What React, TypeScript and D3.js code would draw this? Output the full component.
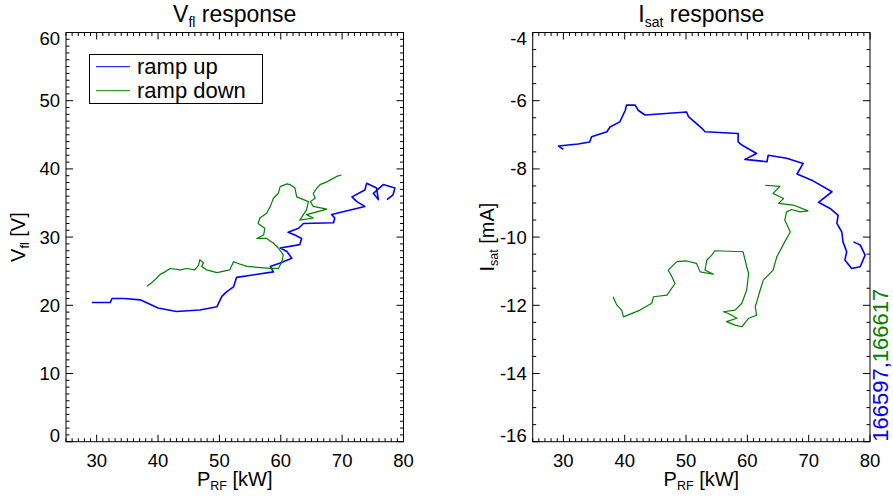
import * as d3 from 'd3'

// [P_RF kW, value] pairs
const VFL_UP: [number, number][] = [
  [29.2, 20.4], [32.2, 20.4], [32.5, 21.0], [34.5, 21.0], [37.1, 20.8], [40.0, 19.6],
  [43.0, 19.1], [46.8, 19.3], [49.6, 19.8], [50.4, 21.3], [51.2, 22.0], [52.3, 22.7],
  [52.8, 24.1], [58.8, 24.9], [58.3, 25.7], [59.9, 26.2], [61.8, 26.9], [61.0, 27.9],
  [59.9, 28.4], [63.1, 28.9], [63.4, 29.8], [62.3, 30.3], [61.2, 30.7], [62.9, 31.3],
  [63.7, 32.0], [68.6, 32.1], [68.8, 32.8], [68.3, 33.3], [73.7, 34.5], [72.4, 35.2],
  [71.6, 35.9], [73.7, 36.9], [74.0, 37.9], [75.6, 37.2], [75.9, 35.5], [75.1, 36.4],
  [76.7, 37.7], [78.6, 37.2], [78.3, 36.2], [77.3, 35.5],
]

const VFL_DOWN: [number, number][] = [
  [69.9, 39.1], [69.1, 38.9], [67.5, 38.1], [66.4, 37.7], [65.9, 37.2], [65.3, 36.4],
  [65.6, 35.7], [64.8, 35.2], [65.3, 34.5], [67.5, 34.1], [65.9, 33.7], [64.2, 33.3],
  [65.3, 32.8], [63.1, 32.5], [64.2, 34.0], [64.5, 35.2], [62.6, 35.9], [62.3, 37.2],
  [61.5, 37.7], [61.0, 37.8], [59.9, 37.4], [59.6, 36.4], [58.8, 35.7], [58.3, 34.5],
  [57.7, 33.5], [56.6, 32.8], [56.3, 32.0], [57.4, 31.3], [57.2, 30.3], [56.1, 29.8],
  [57.7, 29.8], [58.8, 29.1], [59.6, 28.4], [60.4, 27.4], [60.2, 26.4], [59.6, 25.4],
  [58.3, 25.4], [54.5, 25.7], [52.8, 26.2], [52.3, 26.4], [51.7, 25.2], [49.6, 24.8],
  [47.9, 25.2], [47.1, 25.7], [47.4, 26.2], [46.8, 26.7], [46.6, 25.9], [46.0, 25.2],
  [44.7, 25.4], [43.6, 25.2], [42.0, 25.4], [41.1, 24.9], [40.3, 24.5], [39.8, 24.0],
  [39.2, 23.5], [38.2, 22.8],
]

const ISAT_UP: [number, number][] = [
  [30.0, -7.43], [29.2, -7.33], [32.4, -7.27], [34.3, -7.21], [34.6, -7.06], [37.1, -6.91],
  [37.6, -6.77], [39.2, -6.62], [40.1, -6.28], [40.3, -6.13], [41.7, -6.13], [42.2, -6.28],
  [43.3, -6.42], [50.1, -6.33], [50.4, -6.47], [51.2, -6.59], [52.6, -6.81], [53.1, -6.91],
  [58.5, -6.96], [58.5, -7.21], [59.1, -7.30], [61.5, -7.55], [59.6, -7.72], [63.2, -7.79],
  [63.4, -7.60], [66.4, -7.69], [69.1, -7.84], [68.1, -8.15], [70.5, -8.33], [73.8, -8.67],
  [71.6, -8.98], [73.5, -9.16], [74.8, -9.36], [74.6, -9.60], [75.4, -9.85], [75.6, -10.14],
  [76.2, -10.43], [75.9, -10.67], [77.0, -10.92], [78.4, -10.87], [79.2, -10.53],
  [78.4, -10.23], [77.3, -10.14],
]

const ISAT_DOWN: [number, number][] = [
  [62.9, -8.48], [65.3, -8.51], [64.2, -8.72], [65.9, -8.87], [65.1, -9.01], [67.5, -9.06],
  [69.9, -9.23], [68.6, -9.26], [67.2, -9.19], [66.4, -9.26], [66.1, -9.50], [67.0, -9.85],
  [66.1, -10.14], [64.8, -10.58], [64.2, -10.97], [62.6, -11.26], [62.1, -11.55],
  [61.3, -12.04], [61.5, -12.29], [60.2, -12.38], [59.1, -12.63], [58.0, -12.58],
  [56.6, -12.48], [58.3, -12.38], [56.9, -12.24], [56.1, -12.19], [58.0, -12.14],
  [59.1, -11.94], [59.9, -11.55], [60.2, -11.06], [59.9, -10.87], [59.3, -10.43],
  [54.7, -10.40], [54.2, -10.53], [53.4, -10.67], [53.1, -10.97], [54.5, -11.09],
  [52.3, -11.02], [51.7, -10.77], [50.1, -10.70], [48.5, -10.72], [47.1, -10.97],
  [47.7, -11.16], [48.2, -11.36], [46.9, -11.70], [44.7, -11.75], [44.4, -11.94],
  [42.5, -12.14], [39.8, -12.34], [39.5, -12.14], [38.7, -11.99], [38.1, -11.75],
]

const P_TICKS = [30, 40, 50, 60, 70, 80]
const VFL_TICKS = [0, 10, 20, 30, 40, 50, 60]
const ISAT_TICKS = [-16, -14, -12, -10, -8, -6, -4]
const LEGEND = ['ramp up', 'ramp down']
const SHOTS = ['166597', '166617']

const BLUE = '#0000ff'
const GREEN = '#008000'
const FONT = '"Liberation Sans", Arial, Helvetica, sans-serif'

type PanelProps = {
  x0: number
  x1: number
  yDomain: [number, number]
  yTicks: number[]
  yMinor: number
  up: [number, number][]
  down: [number, number][]
  title: [string, string]
  yLabel: [string, string, string]
  yLabelX: number
}

const TOP = 32.5
const BOTTOM = 441.7

function Panel({ x0, x1, yDomain, yTicks, yMinor, up, down, title, yLabel, yLabelX }: PanelProps) {
  const x = d3.scaleLinear().domain([25, 80]).range([x0, x1])
  const y = d3.scaleLinear().domain(yDomain).range([BOTTOM, TOP])
  const line = d3.line<[number, number]>().x(d => x(d[0])).y(d => y(d[1]))

  const xMinor = d3.range(25, 80.01, 1)
  const yMinorTicks = d3.range(yDomain[0], yDomain[1] + 1e-6, yMinor)
  const cx = (x0 + x1) / 2
  const cy = (TOP + BOTTOM) / 2

  return (
    <g>
      {/* minor + major ticks on all four sides, pointing inward */}
      {xMinor.map(v => {
        const major = P_TICKS.includes(Math.round(v)) && Math.abs(v % 10) < 1e-6
        const len = major ? 7 : 3.5
        return (
          <g key={'x' + v} stroke="#000" strokeWidth={1}>
            <line x1={x(v)} x2={x(v)} y1={BOTTOM} y2={BOTTOM - len} />
            <line x1={x(v)} x2={x(v)} y1={TOP} y2={TOP + len} />
          </g>
        )
      })}
      {yMinorTicks.map(v => {
        const major = yTicks.some(t => Math.abs(t - v) < 1e-6)
        const len = major ? 7 : 3.5
        return (
          <g key={'y' + v} stroke="#000" strokeWidth={1}>
            <line x1={x0} x2={x0 + len} y1={y(v)} y2={y(v)} />
            <line x1={x1} x2={x1 - len} y1={y(v)} y2={y(v)} />
          </g>
        )
      })}
      <rect x={x0} y={TOP} width={x1 - x0} height={BOTTOM - TOP} fill="none" stroke="#000" strokeWidth={1} />

      <path d={line(up) ?? ''} fill="none" stroke={BLUE} strokeWidth={1.6} strokeLinejoin="round" />
      <path d={line(down) ?? ''} fill="none" stroke={GREEN} strokeWidth={1.2} strokeLinejoin="round" />

      {/* tick labels */}
      {P_TICKS.map(v => (
        <text key={'xl' + v} x={x(v)} y={467} textAnchor="middle" fontSize={18.5}>{v}</text>
      ))}
      {yTicks.map((v, i) => {
        const off = i === 0 ? 0 : i === yTicks.length - 1 ? 12.5 : 6.5
        return (
          <text key={'yl' + v} x={x0 - 6} y={y(v) + off} textAnchor="end" fontSize={18.5}>{v}</text>
        )
      })}

      {/* title */}
      <text x={cx} y={22} textAnchor="middle" fontSize={23}>
        {title[0]}
        <tspan fontSize={14} dy={5}>{title[1]}</tspan>
        <tspan dy={-5}>{' response'}</tspan>
      </text>

      {/* x title */}
      <text x={cx} y={486} textAnchor="middle" fontSize={20}>
        P<tspan fontSize={12.5} dy={4}>RF</tspan>
        <tspan dy={-4}>{' [kW]'}</tspan>
      </text>

      {/* y title */}
      <text transform={`translate(${yLabelX},${cy}) rotate(-90)`} textAnchor="middle" fontSize={20}>
        {yLabel[0]}
        <tspan fontSize={12.5} dy={4}>{yLabel[1]}</tspan>
        <tspan dy={-4}>{yLabel[2]}</tspan>
      </text>
    </g>
  )
}

export default function App() {
  return (
    <svg
      width={893}
      height={498}
      style={{ position: 'absolute', left: 0, top: 0, background: '#fff', fontFamily: FONT }}
    >
      <Panel
        x0={66}
        x1={403.5}
        yDomain={[0, 60]}
        yTicks={VFL_TICKS}
        yMinor={1}
        up={VFL_UP}
        down={VFL_DOWN}
        title={['V', 'fl']}
        yLabel={['V', 'fl', ' [V]']}
        yLabelX={25}
      />
      <Panel
        x0={532.7}
        x1={870}
        yDomain={[-16, -4]}
        yTicks={ISAT_TICKS}
        yMinor={0.5}
        up={ISAT_UP}
        down={ISAT_DOWN}
        title={['I', 'sat']}
        yLabel={['I', 'sat', ' [mA]']}
        yLabelX={494}
      />

      {/* legend */}
      <rect x={89.5} y={54.5} width={173} height={49} fill="#fff" stroke="#000" strokeWidth={1} />
      {LEGEND.map((name, i) => (
        <g key={name}>
          <line x1={96} x2={130} y1={66.7 + i * 24} y2={66.7 + i * 24} stroke={i === 0 ? BLUE : GREEN} strokeWidth={1} />
          <text x={137} y={74 + i * 23.5} fontSize={22}>{name}</text>
        </g>
      ))}

      {/* shot numbers */}
      <text transform="translate(887.5,441.7) rotate(-90)" fontSize={22}>
        <tspan fill={BLUE}>{SHOTS[0] + ','}</tspan>
        <tspan fill={GREEN}>{SHOTS[1]}</tspan>
      </text>
    </svg>
  )
}
